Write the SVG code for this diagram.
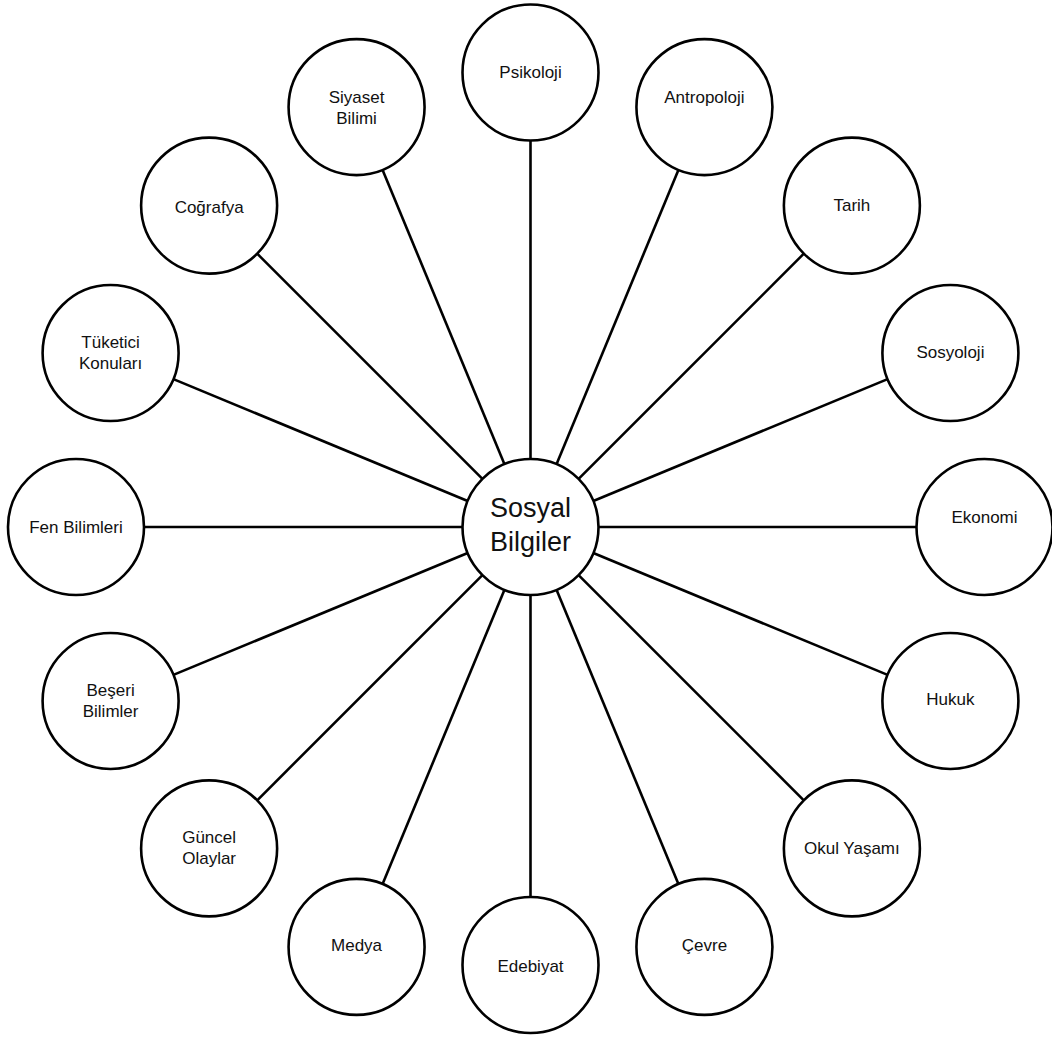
<svg xmlns="http://www.w3.org/2000/svg" width="1052" height="1039" viewBox="0 0 1052 1039">
<style>
.n circle{fill:#fff;stroke:#000;stroke-width:2.6}
.n text{font-family:"Liberation Sans",Arial,sans-serif;font-size:17px;fill:#111;text-anchor:middle}
#center text{font-size:27px}
#connectors line{stroke:#000;stroke-width:2.6}
</style>
<rect width="1052" height="1039" fill="#fff"/>
<g id="connectors">
<line x1="530.5" y1="459" x2="530.5" y2="140.5"/>
<line x1="556.52" y1="464.18" x2="678.41" y2="169.92"/>
<line x1="578.58" y1="478.92" x2="803.80" y2="253.70"/>
<line x1="593.32" y1="500.98" x2="887.58" y2="379.09"/>
<line x1="598.5" y1="527" x2="917" y2="527"/>
<line x1="593.32" y1="553.02" x2="887.58" y2="674.91"/>
<line x1="578.58" y1="575.08" x2="803.80" y2="800.30"/>
<line x1="556.52" y1="589.82" x2="678.41" y2="884.08"/>
<line x1="530.5" y1="595" x2="530.5" y2="897"/>
<line x1="504.48" y1="589.82" x2="382.59" y2="884.08"/>
<line x1="482.42" y1="575.08" x2="257.20" y2="800.30"/>
<line x1="467.68" y1="553.02" x2="173.42" y2="674.91"/>
<line x1="462.5" y1="527" x2="144" y2="527"/>
<line x1="467.68" y1="500.98" x2="173.42" y2="379.09"/>
<line x1="482.42" y1="478.92" x2="257.20" y2="253.70"/>
<line x1="504.48" y1="464.18" x2="382.59" y2="169.92"/>
</g>
<g id="center" class="n"><circle cx="530.5" cy="527" r="68"/><text x="530.5" y="517">Sosyal</text><text x="530.5" y="551">Bilgiler</text></g>
<g id="psikoloji" class="n"><circle cx="530.5" cy="72.5" r="68"/><text x="530.5" y="78">Psikoloji</text></g>
<g id="antropoloji" class="n"><circle cx="704.43" cy="107.1" r="68"/><text x="704.43" y="103">Antropoloji</text></g>
<g id="tarih" class="n"><circle cx="851.88" cy="205.62" r="68"/><text x="851.88" y="211">Tarih</text></g>
<g id="sosyoloji" class="n"><circle cx="950.4" cy="353.07" r="68"/><text x="950.4" y="358">Sosyoloji</text></g>
<g id="ekonomi" class="n"><circle cx="984.5" cy="527" r="68"/><text x="984.5" y="523">Ekonomi</text></g>
<g id="hukuk" class="n"><circle cx="950.4" cy="700.93" r="68"/><text x="950.4" y="705">Hukuk</text></g>
<g id="okul" class="n"><circle cx="851.88" cy="848.38" r="68"/><text x="851.88" y="854">Okul Yaşamı</text></g>
<g id="cevre" class="n"><circle cx="704.43" cy="946.9" r="68"/><text x="704.43" y="951">Çevre</text></g>
<g id="edebiyat" class="n"><circle cx="530.5" cy="965" r="68"/><text x="530.5" y="972">Edebiyat</text></g>
<g id="medya" class="n"><circle cx="356.57" cy="946.9" r="68"/><text x="356.57" y="951">Medya</text></g>
<g id="guncel" class="n"><circle cx="209.12" cy="848.38" r="68"/><text x="209.12" y="843">Güncel</text><text x="209.12" y="864">Olaylar</text></g>
<g id="beseri" class="n"><circle cx="110.6" cy="700.93" r="68"/><text x="110.6" y="696">Beşeri</text><text x="110.6" y="717">Bilimler</text></g>
<g id="fen" class="n"><circle cx="76" cy="527" r="68"/><text x="76" y="533">Fen Bilimleri</text></g>
<g id="tuketici" class="n"><circle cx="110.6" cy="353.07" r="68"/><text x="110.6" y="348">Tüketici</text><text x="110.6" y="369">Konuları</text></g>
<g id="cografya" class="n"><circle cx="209.12" cy="205.62" r="68"/><text x="209.12" y="213">Coğrafya</text></g>
<g id="siyaset" class="n"><circle cx="356.57" cy="107.1" r="68"/><text x="356.57" y="103">Siyaset</text><text x="356.57" y="124">Bilimi</text></g>
</svg>
